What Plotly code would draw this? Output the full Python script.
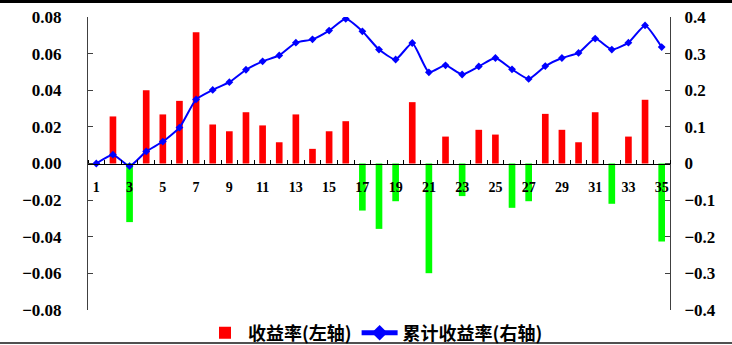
import plotly.graph_objects as go

periods = list(range(1, 36))
returns = [0.0, 0.0257, -0.032, 0.040, 0.0268, 0.0342, 0.0717, 0.0213, 0.0176, 0.028,
           0.0208, 0.0116, 0.0268, 0.008, 0.0176, 0.0231, -0.0257, -0.0357, -0.0206, 0.0335,
           -0.0599, 0.0147, -0.0178, 0.0184, 0.0158, -0.0242, -0.0206, 0.0271, 0.0184, 0.0116,
           0.028, -0.022, 0.0147, 0.0348, -0.0426]
cumulative = [0.0, 0.024, -0.007, 0.033, 0.060, 0.098, 0.175, 0.201, 0.222, 0.256,
              0.279, 0.295, 0.330, 0.339, 0.363, 0.395, 0.361, 0.311, 0.284, 0.329,
              0.249, 0.268, 0.243, 0.265, 0.288, 0.257, 0.231, 0.266, 0.288, 0.302,
              0.341, 0.311, 0.330, 0.377, 0.318]
left_ticks = [-0.08, -0.06, -0.04, -0.02, 0.0, 0.02, 0.04, 0.06, 0.08]
right_ticks = [-0.4, -0.3, -0.2, -0.1, 0.0, 0.1, 0.2, 0.3, 0.4]
right_tick_text = ["−0.4", "−0.3", "−0.2", "−0.1", "0", "0.1", "0.2", "0.3", "0.4"]
x_labels = periods[::2]

bar_colors = ["#FF0000" if v >= 0 else "#00FF00" for v in returns]

W, H = 732, 345
ML, MR, MT, MB = 88, 62, 17, 35
PW, PH = W - ML - MR, H - MT - MB

num_font = dict(family="Liberation Serif", size=17, color="black", weight="bold")

fig = go.Figure()
fig.add_trace(go.Bar(
    x=periods, y=returns, name="收益率(左轴)",
    marker=dict(color=bar_colors, line=dict(width=0)),
    width=0.4, yaxis="y",
))
fig.add_trace(go.Scatter(
    x=periods, y=cumulative, name="累计收益率(右轴)", yaxis="y2",
    mode="lines+markers",
    line=dict(color="#0000FF", width=2, shape="spline", smoothing=0.5),
    marker=dict(symbol="diamond", size=6, color="#0000FF"),
))

fig.update_layout(
    width=W, height=H,
    margin=dict(l=ML, r=MR, t=MT, b=MB, autoexpand=False),
    paper_bgcolor="white", plot_bgcolor="white",
    showlegend=True,
    legend=dict(orientation="h", x=0.5 - 4 / PW, xanchor="center",
                y=-(MB - 12) / PH, yanchor="middle",
                itemwidth=36,
                font=dict(family="Noto Sans CJK SC", size=18, color="black", weight="bold"),
                bgcolor="rgba(0,0,0,0)", itemsizing="constant"),
    xaxis=dict(
        range=[0.5, 35.5], anchor="free", position=0.5,
        showline=True, linecolor="black", linewidth=1,
        showgrid=False, zeroline=False,
        tickmode="array", tickvals=x_labels, ticktext=[str(v) for v in x_labels],
        ticks="", ticklabelstandoff=11,
        tickfont=dict(family="Liberation Serif", size=14, color="black", weight="bold"),
        minor=dict(tickmode="linear", tick0=0.5, dtick=1, ticks="inside", ticklen=4,
                   tickcolor="black", tickwidth=1, showgrid=False),
    ),
    yaxis=dict(
        range=[-0.08, 0.08], tickmode="array", tickvals=left_ticks, tickformat=".2f",
        showline=True, linecolor="#404040", linewidth=1,
        ticks="inside", ticklen=5, tickcolor="#404040",
        showgrid=False, zeroline=False,
        tickfont=num_font, ticklabelstandoff=22,
    ),
    yaxis2=dict(
        range=[-0.4, 0.4], overlaying="y", side="right",
        tickmode="array", tickvals=right_ticks, ticktext=right_tick_text,
        showline=True, linecolor="#404040", linewidth=1,
        ticks="inside", ticklen=5, tickcolor="#404040",
        showgrid=False, zeroline=False,
        tickfont=num_font, ticklabelstandoff=10,
    ),
    shapes=[
        dict(type="rect", xref="paper", yref="paper",
             x0=-ML / PW, x1=(W - ML) / PW,
             y0=(H - MB - 3) / PH, y1=(H - MB + 2) / PH,
             fillcolor="black", line=dict(width=0), layer="above"),
        dict(type="line", xref="paper", yref="paper",
             x0=-ML / PW, x1=(W - ML) / PW,
             y0=-(MB - 2) / PH, y1=-(MB - 2) / PH,
             line=dict(color="#505050", width=2), layer="above"),
    ],
)

fig.write_html("out.html")
